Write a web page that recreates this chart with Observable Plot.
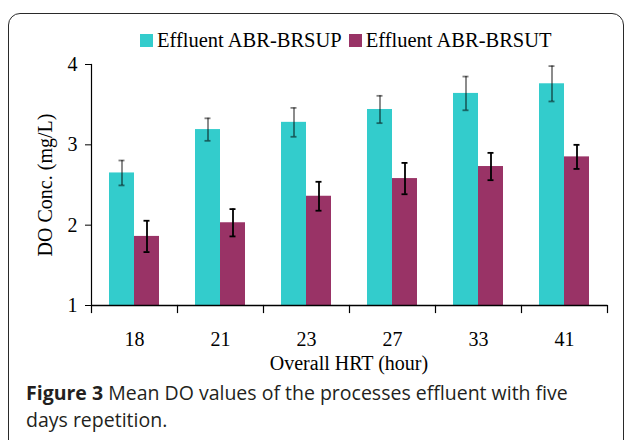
<!DOCTYPE html>
<html>
<head>
<meta charset="utf-8">
<script src="https://cdn.jsdelivr.net/npm/d3@7"></script>
<script src="https://cdn.jsdelivr.net/npm/@observablehq/plot@0.6"></script>
<style>
  html, body { margin: 0; padding: 0; background: #fff; }
  #page { position: relative; width: 629px; height: 440px; overflow: hidden; }
  #frame { position: absolute; left: 8px; top: 13px; width: 616px; height: 470px;
           border: 1.5px solid #2a2a2a; border-radius: 12px; box-sizing: border-box; }
  #legend { position: absolute; left: 140px; top: 29px; font-family: "Liberation Serif", serif;
            font-size: 20.5px; color: #000; display: flex; align-items: center; white-space: nowrap; }
  #legend .sw { display: inline-block; width: 13px; height: 13px; margin-right: 4px; }
  #legend .item { display: flex; align-items: center; margin-right: 7px; }
  #chart { position: absolute; left: 0; top: 50px; }
  #xlabel { position: absolute; left: 91px; width: 516px; top: 352px; text-align: center;
            font-family: "Liberation Serif", serif; font-size: 20px; color: #000; }
  #caption { position: absolute; left: 26px; top: 379px; width: 590px; font-family: "Open Sans", sans-serif;
             font-size: 19.5px; font-weight: 500; line-height: 27px; color: #231f20; }
  #caption div { white-space: nowrap; }
  #caption b { font-weight: 700; }
</style>
</head>
<body>
<div id="page">
  <div id="frame"></div>
  <div id="legend"></div>
  <div id="chart"></div>
  <div id="xlabel">Overall HRT (hour)</div>
  <div id="caption">
    <div><b>Figure 3</b> <span>Mean DO values of the processes effluent with five</span></div>
    <div><span>days repetition.</span></div>
  </div>
</div>
<script>
const categories = ["18", "21", "23", "27", "33", "41"];
const seriesNames = ["Effluent ABR-BRSUP", "Effluent ABR-BRSUT"];
const seriesColors = ["#33CCCC", "#993366"];
const brsupMean = [2.65, 3.19, 3.28, 3.44, 3.64, 3.76];
const brsupErr  = [0.155, 0.14, 0.18, 0.17, 0.21, 0.22];
const brsutMean = [1.86, 2.03, 2.36, 2.58, 2.73, 2.85];
const brsutErr  = [0.195, 0.17, 0.18, 0.195, 0.17, 0.15];
const yTicks = [1, 2, 3, 4];

const rows = [];
categories.forEach((c, i) => {
  rows.push({hrt: c, series: seriesNames[0], value: brsupMean[i], err: brsupErr[i]});
  rows.push({hrt: c, series: seriesNames[1], value: brsutMean[i], err: brsutErr[i]});
});
const errOpacity = d => d.series === seriesNames[0] ? 0.5 : 1;

// legend
const legend = document.getElementById("legend");
seriesNames.forEach((s, i) => {
  const it = document.createElement("span");
  it.className = "item";
  it.innerHTML = `<span class="sw" style="background:${seriesColors[i]}"></span>${s}`;
  legend.appendChild(it);
});

const H = 330, MT = 14, MB = 75;
const plotH = H - MT - MB;

const plot = Plot.plot({
  width: 629,
  height: H,
  marginLeft: 91,
  marginRight: 22,
  marginTop: MT,
  marginBottom: MB,
  style: {fontFamily: "Liberation Serif, serif", fontSize: "20px", color: "#000", background: "transparent", overflow: "visible"},
  fx: {domain: categories, padding: 0, label: null},
  x: {domain: seriesNames, paddingInner: 0, paddingOuter: 0.72, axis: null},
  y: {domain: [1, 4], label: null},
  color: {domain: seriesNames, range: seriesColors},
  marks: [
    Plot.barY(rows, {fx: "hrt", x: "series", y1: 1, y2: "value", fill: "series"}),
    Plot.ruleX(rows, {fx: "hrt", x: "series", y1: d => d.value - d.err, y2: d => d.value + d.err,
      stroke: "#000", strokeOpacity: errOpacity, strokeWidth: 1.8}),
    Plot.tickY(rows, {fx: "hrt", x: "series", y: d => d.value - d.err, stroke: "#000", strokeOpacity: errOpacity,
      strokeWidth: 1.8, insetLeft: 9.5, insetRight: 9.5}),
    Plot.tickY(rows, {fx: "hrt", x: "series", y: d => d.value + d.err, stroke: "#000", strokeOpacity: errOpacity,
      strokeWidth: 1.8, insetLeft: 9.5, insetRight: 9.5}),
    Plot.ruleY([1], {stroke: "#000", strokeWidth: 1.5}),
    Plot.frame({anchor: "left", facetAnchor: "left", stroke: "#000", strokeWidth: 1.2}),
    Plot.frame({anchor: "left", stroke: "#000", strokeWidth: 1.2, insetTop: plotH, insetBottom: -7}),
    Plot.frame({anchor: "right", facetAnchor: "right", stroke: "#000", strokeWidth: 1.2, insetTop: plotH, insetBottom: -7}),
    Plot.axisY({ticks: yTicks, tickSize: 6, tickPadding: 8, tickFormat: d3.format("d"),
      label: "DO Conc. (mg/L)", labelAnchor: "center", labelOffset: 54, labelArrow: "none"}),
    Plot.axisFx({anchor: "bottom", tickSize: 0, tickPadding: 26, label: null})
  ]
});
document.getElementById("chart").appendChild(plot);
</script>
</body>
</html>
